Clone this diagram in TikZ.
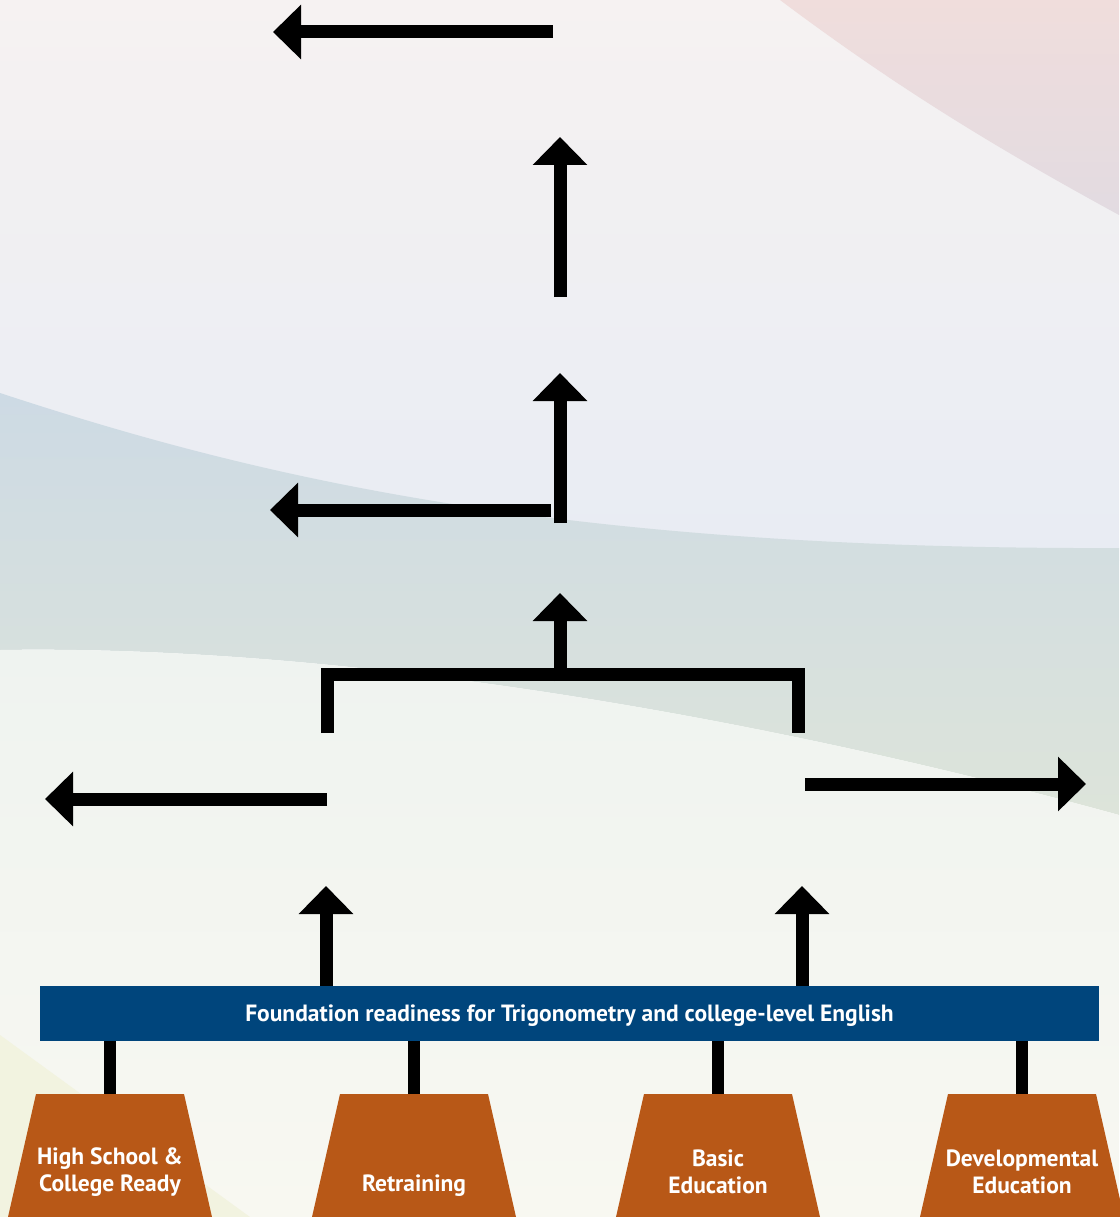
\documentclass[tikz,border=0pt]{standalone}
\usepackage{fontspec}
\setmainfont{PT Sans}
\usetikzlibrary{arrows.meta}
\definecolor{barblue}{HTML}{00457C}
\definecolor{rust}{HTML}{B85817}
\definecolor{topA}{HTML}{F6F2F2}
\definecolor{topB}{HTML}{E8ECF3}
\definecolor{pinkA}{HTML}{F0DDDC}
\definecolor{pinkB}{HTML}{E2DBE1}
\definecolor{bandA}{HTML}{CDDAE4}
\definecolor{bandB}{HTML}{DDE4DA}
\definecolor{lowA}{HTML}{EFF3F0}
\definecolor{lowB}{HTML}{F8F8F1}
\definecolor{yel}{HTML}{F2F3E0}
\begin{document}
\begin{tikzpicture}[x=1pt,y=-1pt,
  arr/.style={line width=13pt,-{Triangle[width=53pt,length=28pt]}},
  barline/.style={line width=13pt,line join=miter},
  link/.style={line width=12pt},
  lbl/.style={text=white,font=\bfseries\fontsize{23.5}{27}\selectfont,align=center},
]
\useasboundingbox (0,0) rectangle (1119,1217);
\begin{scope}
  \clip (0,0) rectangle (1119,1217);
  % base
  \shade[top color=topA,bottom color=topB] (0,0) rectangle (1119,560);
  % pink corner
  \shade[top color=pinkA,bottom color=pinkB]
    (780,0) .. controls (900,90) and (1000,150) .. (1119,215) -- (1119,0) -- cycle;
  % band
  \shade[top color=bandA,bottom color=bandB]
    (0,393) .. controls (250,475) and (550,550) .. (1119,548)
    -- (1119,815) .. controls (700,700) and (300,645) .. (0,650) -- cycle;
  % lower light region
  \shade[top color=lowA,bottom color=lowB]
    (0,650) .. controls (300,645) and (700,700) .. (1119,815)
    -- (1119,1217) -- (0,1217) -- cycle;
  % yellow corner
  \fill[yel] (0,1035) -- (250,1217) -- (0,1217) -- cycle;
\end{scope}

% arrow end points
\coordinate (a1s) at (553,32);   \coordinate (a1e) at (273,32);
\coordinate (a2s) at (560,297);  \coordinate (a2e) at (560,137);
\coordinate (a3s) at (560,523);  \coordinate (a3e) at (560,373);
\coordinate (a4s) at (551,510);  \coordinate (a4e) at (270,510);
\coordinate (a5s) at (560,681);  \coordinate (a5e) at (560,593);
\coordinate (brL) at (327,733);  \coordinate (brLt) at (327,674.5);
\coordinate (brR) at (798.5,733);\coordinate (brRt) at (798.5,674.5);
\coordinate (a7s) at (327,799);  \coordinate (a7e) at (45,799);
\coordinate (a8s) at (805,784);  \coordinate (a8e) at (1086,784);
\coordinate (upL) at (326,886);  \coordinate (upR) at (802,886);

\draw[arr] (a1s) -- (a1e);
\draw[arr] (a2s) -- (a2e);
\draw[arr] (a3s) -- (a3e);
\draw[arr] (a4s) -- (a4e);
\draw[barline] (brL) -- (brLt) -- (brRt) -- (brR);
\draw[arr] (a5s) -- (a5e);
\draw[arr] (a7s) -- (a7e);
\draw[arr] (a8s) -- (a8e);

% foundation bar
\node[fill=barblue,minimum width=1059pt,minimum height=55pt,inner sep=0pt,text depth=0pt,
      text=white,font=\bfseries\fontsize{23.5}{27}\selectfont] (bar) at (569.5,1013.5)
  {Foundation readiness for Trigonometry and college-level English};

\draw[arr] (bar.north -| upL) -- (upL);
\draw[arr] (bar.north -| upR) -- (upR);

% trapezoids
\foreach \cx/\nm/\txt/\ty in {110/hs/{High School \&\\College Ready}/1172,
    414/rt/{Retraining}/1186, 718/be/{Basic\\Education}/1172,
    1022/de/{Developmental\\Education}/1172}{
  \fill[rust] (\cx-74,1094) -- (\cx+74,1094) -- (\cx+102,1217) -- (\cx-102,1217) -- cycle;
  \coordinate (\nm top) at (\cx,1094);
  \node[lbl] (\nm) at (\cx,\ty) {\txt};
  \draw[link] (bar.south -| \nm top) -- (\nm top);
}
\end{tikzpicture}
\end{document}
